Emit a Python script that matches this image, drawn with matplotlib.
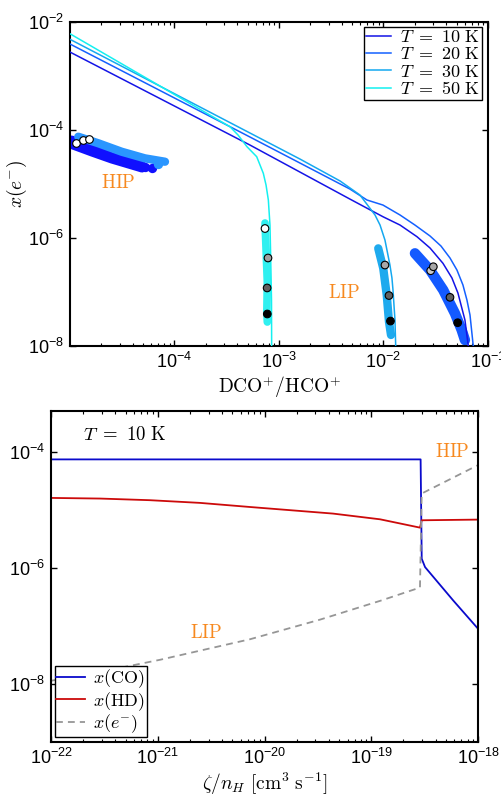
import numpy as np
import matplotlib
matplotlib.use('Agg')
import matplotlib.pyplot as plt
from matplotlib.ticker import LogLocator, NullLocator, FixedLocator

plt.rcParams['font.family'] = ['Liberation Sans', 'DejaVu Sans']
plt.rcParams['mathtext.fontset'] = 'custom'
plt.rcParams['mathtext.rm'] = 'Liberation Sans'
plt.rcParams['mathtext.it'] = 'Liberation Sans:italic'

# ---------- top panel: x(e-) vs DCO+/HCO+ ----------
temps = ['10', '20', '30', '50']
line_cols = ['#1414e6', '#1460ff', '#14a8f0', '#14f0f0']

r_10 = [1e-5, 5.28e-4, 4.77e-3, 9.89e-3, 1.44e-2, 2.09e-2, 2.79e-2, 3.71e-2, 4.52e-2, 5.16e-2, 6.02e-2, 6.48e-2]
xe_10 = [2.78e-3, 5.27e-5, 5.27e-6, 2.48e-6, 1.74e-6, 1.06e-6, 6.53e-7, 3.40e-7, 1.82e-7, 9.57e-8, 3.03e-8, 1e-8]
r_20 = [1e-5, 5.28e-4, 4.77e-3, 6.95e-3, 9.89e-3, 1.44e-2, 2.0e-2, 2.79e-2, 3.55e-2, 4.33e-2, 5.05e-2,
        5.76e-2, 6.29e-2, 6.73e-2, 7.23e-2]
xe_20 = [3.92e-3, 7.42e-5, 8.08e-6, 5.06e-6, 4.08e-6, 2.67e-6, 1.74e-6, 1.09e-6, 7.11e-7, 4.27e-7, 2.55e-7,
         1.35e-7, 7.11e-8, 3.75e-8, 1e-8]
r_30 = [1e-5, 5.28e-4, 1.589e-3, 3.84e-3, 5.96e-3, 8.30e-3, 9.27e-3, 1.033e-2, 1.153e-2, 1.205e-2, 1.233e-2,
        1.288e-2, 1.309e-2]
xe_30 = [4.79e-3, 8.80e-5, 2.90e-5, 1.14e-5, 6.25e-6, 2.67e-6, 1.74e-6, 9.18e-7, 3.16e-7, 1.82e-7, 1.09e-7,
         3.03e-8, 1e-8]
r_50 = [1e-5, 3.40e-4, 4.06e-4, 4.94e-4, 6.12e-4, 7.08e-4, 7.52e-4, 7.91e-4, 8.20e-4, 8.30e-4, 8.48e-4, 8.51e-4]
xe_50 = [6.07e-3, 1.15e-4, 8.07e-5, 4.91e-5, 3.21e-5, 1.58e-5, 9.57e-6, 5.06e-6, 1.74e-6, 6.0e-7, 7.1e-8, 1e-8]

# HIP cluster tracks
hip_dark_r = [1.04e-5, 1.61e-5, 2.51e-5, 3.89e-5, 4.85e-5]
hip_dark_xe = [6.53e-5, 4.58e-5, 3.21e-5, 2.52e-5, 2.25e-5]
hip_dark2_r = [1.07e-5, 1.62e-5, 2.52e-5, 3.92e-5, 4.89e-5]
hip_dark2_xe = [5.27e-5, 3.92e-5, 2.90e-5, 2.25e-5, 1.98e-5]
hip_light_r = [1.20e-5, 1.87e-5, 3.13e-5, 5.22e-5, 8.11e-5]
hip_light_xe = [7.52e-5, 5.68e-5, 3.96e-5, 2.99e-5, 2.59e-5]
hip_tail_r = [6.05e-5, 5.2e-5, 7.0e-5]
hip_tail_xe = [1.94e-5, 2.1e-5, 2.35e-5]
hip_open_r = [1.13e-5, 1.34e-5, 1.53e-5]
hip_open_xe = [5.68e-5, 6.45e-5, 6.73e-5]

# LIP bands
lip50_r = [7.35e-4, 7.51e-4, 7.73e-4, 7.65e-4, 7.73e-4]
lip50_xe = [1.90e-6, 6.53e-7, 1.53e-7, 4.26e-8, 2.78e-8]
lip30_r = [8.91e-3, 9.95e-3, 1.074e-2, 1.129e-2, 1.18e-2]
lip30_xe = [6.44e-7, 2.75e-7, 8.80e-8, 2.82e-8, 1.60e-8]
lip20_r = [2.0e-2, 2.79e-2, 3.73e-2, 4.83e-2, 5.60e-2, 6.02e-2]
lip20_xe = [5.21e-7, 2.55e-7, 1.09e-7, 4.03e-8, 1.98e-8, 1.29e-8]

# marked points (grey levels)
mk50_r = [7.35e-4, 7.85e-4, 7.7e-4, 7.73e-4]
mk50_xe = [1.50e-6, 4.27e-7, 1.19e-7, 3.92e-8]
mk50_c = ['white', '#a0a0a0', '#606060', 'black']
mk30_r = [1.033e-2, 1.129e-2, 1.166e-2]
mk30_xe = [3.16e-7, 8.61e-8, 2.90e-8]
mk30_c = ['#a8a8a8', '#606060', 'black']
mk20_r = [2.83e-2, 3.0e-2, 4.33e-2, 5.13e-2]
mk20_xe = [2.48e-7, 2.94e-7, 7.98e-8, 2.70e-8]
mk20_c = ['#c8c8c8', '#a8a8a8', '#606060', 'black']

# ---------- bottom panel ----------
z_co = [1e-22, 2.90e-19, 2.97e-19, 3.19e-19, 5.87e-19, 1e-18]
x_co = [7.48e-5, 7.48e-5, 1.45e-6, 1.04e-6, 2.75e-7, 9.0e-8]
z_hd = [1e-22, 2.88e-22, 8.46e-22, 2.49e-21, 7.31e-21, 4.38e-20, 1.21e-19, 2.86e-19, 2.97e-19, 1e-18]
x_hd = [1.62e-5, 1.58e-5, 1.48e-5, 1.33e-5, 1.13e-5, 8.7e-6, 6.93e-6, 4.98e-6, 6.67e-6, 6.85e-6]
z_e = [1e-22, 2.70e-22, 1.05e-21, 7.31e-21, 3.31e-20, 1.21e-19, 2.86e-19, 2.97e-19, 1e-18]
x_e = [1.14e-8, 1.58e-8, 2.62e-8, 5.92e-8, 1.29e-7, 2.72e-7, 4.61e-7, 1.93e-5, 5.96e-5]

orange = '#f7891f'

fig = plt.figure(figsize=(5.01, 7.96), dpi=100)
ax1 = fig.add_axes([0.1397, 0.5653, 0.8343, 0.4070])
ax2 = fig.add_axes([0.1018, 0.0678, 0.8523, 0.4158])

# bands of model points
ax1.plot(hip_dark2_r, hip_dark2_xe, color='#1010ff', lw=6.5, solid_capstyle='round', zorder=2)
ax1.plot(hip_dark_r, hip_dark_xe, color='#1010ff', lw=6.5, solid_capstyle='round', zorder=2)
ax1.plot(hip_light_r, hip_light_xe, color='#2a96ff', lw=6, solid_capstyle='round', zorder=2)
ax1.scatter(hip_tail_r[:2], hip_tail_xe[:2], s=45, color='#1010ff', zorder=2, linewidths=0)
ax1.scatter(hip_tail_r[2:], hip_tail_xe[2:], s=45, color='#2a96ff', zorder=2, linewidths=0)
ax1.plot(lip50_r, lip50_xe, color='#30f0f0', lw=5.5, solid_capstyle='round', zorder=2)
ax1.plot(lip30_r, lip30_xe, color='#1eaaee', lw=6, solid_capstyle='round', zorder=2)
ax1.plot(lip20_r, lip20_xe, color='#145aff', lw=7.5, solid_capstyle='round', zorder=2)

for r, xe, c, t in zip([r_10, r_20, r_30, r_50], [xe_10, xe_20, xe_30, xe_50], line_cols, temps):
    ax1.plot(r, xe, color=c, lw=1.1, zorder=3, label=r'$T\ =\ %s\ \mathrm{K}$' % t)

ax1.scatter(hip_open_r, hip_open_xe, s=30, c='white', edgecolors='black', linewidths=0.8, zorder=4)
ax1.scatter(mk50_r, mk50_xe, s=30, c=mk50_c, edgecolors='black', linewidths=0.8, zorder=4)
ax1.scatter(mk30_r, mk30_xe, s=30, c=mk30_c, edgecolors='black', linewidths=0.8, zorder=4)
ax1.scatter(mk20_r, mk20_xe, s=30, c=mk20_c, edgecolors='black', linewidths=0.8, zorder=4)

ax1.set_xscale('log')
ax1.set_yscale('log')
ax1.set_xlim(1e-5, 1e-1)
ax1.set_ylim(1e-8, 1e-2)
ax1.xaxis.set_major_locator(FixedLocator([1e-4, 1e-3, 1e-2, 1e-1]))
ax1.xaxis.set_minor_locator(LogLocator(base=10, subs=np.arange(2, 10)))
ax1.yaxis.set_major_locator(FixedLocator([1e-8, 1e-6, 1e-4, 1e-2]))
ax1.yaxis.set_minor_locator(NullLocator())

t1 = ax1.text(2.0e-5, 1.05e-5, r'$\mathrm{HIP}$', color=orange, fontsize=13.5, va='center')
t1.set_math_fontfamily('cm')
t2 = ax1.text(2.94e-3, 9.6e-8, r'$\mathrm{LIP}$', color=orange, fontsize=13.5, va='center')
t2.set_math_fontfamily('cm')

lab = ax1.set_xlabel(r'$\mathrm{DCO^{+}/HCO^{+}}$', fontsize=14, labelpad=2)
lab.set_math_fontfamily('cm')
lab = ax1.set_ylabel(r'$x(e^{-})$', fontsize=14)
lab.set_math_fontfamily('cm')
ax1.yaxis.set_label_coords(-0.098, 0.5)

leg = ax1.legend(loc='upper right', bbox_to_anchor=(0.9864, 0.9855), borderaxespad=0,
                 fontsize=13, frameon=True, fancybox=False, framealpha=1,
                 edgecolor='black', handlelength=1.4, handletextpad=0.5,
                 labelspacing=0.02, borderpad=0.12)
leg.get_frame().set_linewidth(1.0)
for t in leg.get_texts():
    t.set_math_fontfamily('cm')

# bottom panel
ax2.plot(z_co, x_co, color='#0a0acc', lw=1.3, label=r'$x(\mathrm{CO})$')
ax2.plot(z_hd, x_hd, color='#cc0a0a', lw=1.3, label=r'$x(\mathrm{HD})$')
ax2.plot(z_e, x_e, color='#969696', lw=1.3, ls=(0, (3.8, 2.8)), label=r'$x(e^{-})$')

ax2.set_xscale('log')
ax2.set_yscale('log')
ax2.set_xlim(1e-22, 1e-18)
ax2.set_ylim(1e-9, 5.1e-4)
ax2.xaxis.set_major_locator(FixedLocator([1e-22, 1e-21, 1e-20, 1e-19, 1e-18]))
ax2.xaxis.set_minor_locator(LogLocator(base=10, subs=np.arange(2, 10)))
ax2.yaxis.set_major_locator(FixedLocator([1e-8, 1e-6, 1e-4]))
ax2.yaxis.set_minor_locator(NullLocator())

t3 = ax2.text(2.0e-22, 1.97e-4, r'$T\ =\ 10\ \mathrm{K}$', fontsize=13.5, va='center')
t3.set_math_fontfamily('cm')
t4 = ax2.text(3.95e-19, 1.0e-4, r'$\mathrm{HIP}$', color=orange, fontsize=13.5, va='center')
t4.set_math_fontfamily('cm')
t5 = ax2.text(2.0e-21, 7.7e-8, r'$\mathrm{LIP}$', color=orange, fontsize=13.5, va='center')
t5.set_math_fontfamily('cm')

lab = ax2.set_xlabel(r'$\zeta/n_H\ \mathrm{[cm^{3}\ s^{-1}]}$', fontsize=14, labelpad=2)
lab.set_math_fontfamily('cm')

leg2 = ax2.legend(loc='lower left', bbox_to_anchor=(0.0094, 0.016), borderaxespad=0,
                  fontsize=13, frameon=True, fancybox=False, framealpha=1,
                  edgecolor='black', handlelength=1.6, handletextpad=0.45,
                  labelspacing=0.0, borderpad=0.08)
leg2.get_frame().set_linewidth(1.0)
for t in leg2.get_texts():
    t.set_math_fontfamily('cm')

for ax in (ax1, ax2):
    for s in ax.spines.values():
        s.set_linewidth(1.5)
    ax.tick_params(which='both', direction='in', top=True, right=True, labelsize=13, pad=4)
    ax.tick_params(which='major', length=4, width=1.0)
    ax.tick_params(which='minor', length=2.2, width=0.8)
    ax.set_xticklabels([r'$10^{%d}$' % int(round(np.log10(v))) for v in ax.get_xticks()])
    ax.set_yticklabels([r'$10^{%d}$' % int(round(np.log10(v))) for v in ax.get_yticks()])

fig.savefig('out.png', dpi=100)
